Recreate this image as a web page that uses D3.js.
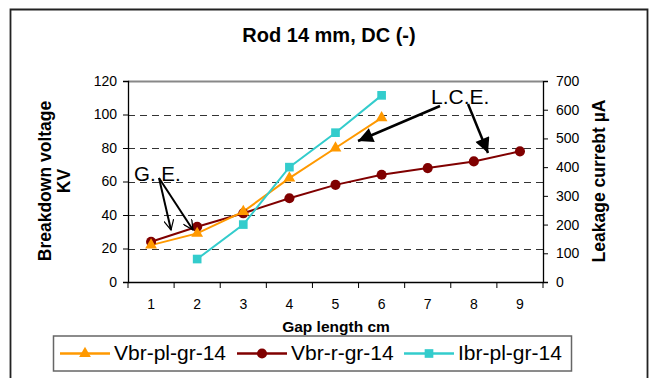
<!DOCTYPE html>
<html><head><meta charset="utf-8">
<script src="https://cdn.jsdelivr.net/npm/d3@7"></script>
<style>body{margin:0;background:#fff}svg{display:block;font-family:"Liberation Sans",Arial,sans-serif}</style>
</head><body>
<svg id="c" width="649" height="378"></svg>
<script>
const categories = [1,2,3,4,5,6,7,8,9];
const vbrPl = [22,29,42,62,80,98];          // Vbr-pl-gr-14 (KV), gaps 1..6
const vbrR  = [24,33,41,50,58,64,68,72,78]; // Vbr-r-gr-14 (KV), gaps 1..9
const ibrPlGaps = [2,3,4,5,6];
const ibrPl = [80,200,400,520,650];         // Ibr-pl-gr-14 (µA)
const leftTicks = [0,20,40,60,80,100,120];
const rightTicks = [0,100,200,300,400,500,600,700];

const svg = d3.select("#c");
const L=128, R=543, T=81, B=282;

// frame
svg.append("path").attr("d","M10.5,400 V9.5 H647.5 V400").attr("fill","none").attr("stroke","#222").attr("stroke-width",1.8);

const x = d3.scaleBand().domain(categories).range([L,R]);
const y = d3.scaleLinear().domain([0,120]).range([B,T]);
const y2 = d3.scaleLinear().domain([0,700]).range([B,T]);
const cx = d => x(d)+x.bandwidth()/2;

// title
svg.append("text").attr("x",329).attr("y",41.5).attr("text-anchor","middle")
  .attr("font-size",20).attr("font-weight","bold").text("Rod 14 mm, DC (-)");

// gridlines
svg.append("g").selectAll("line").data(leftTicks.filter(d=>d>0&&d<120)).join("line")
  .attr("x1",L).attr("x2",R).attr("y1",d=>Math.round(y(d))+0.5).attr("y2",d=>Math.round(y(d))+0.5)
  .attr("stroke","#333").attr("stroke-dasharray","7,5");
// top border
svg.append("line").attr("x1",L).attr("x2",R).attr("y1",T+0.5).attr("y2",T+0.5).attr("stroke","#888").attr("stroke-width",2);

// axes
const gl = svg.append("g").attr("transform",`translate(${L},0)`)
  .call(d3.axisLeft(y).tickValues(leftTicks).tickSizeOuter(0).tickSize(5).tickPadding(6));
const gr = svg.append("g").attr("transform",`translate(${R},0)`)
  .call(d3.axisRight(y2).tickValues(rightTicks).tickSizeOuter(0).tickSize(5).tickPadding(8));
const gb = svg.append("g").attr("transform",`translate(0,${B})`)
  .call(d3.axisBottom(x).tickSize(0).tickSizeOuter(0).tickPadding(17));
gb.selectAll(".tick").append("line").attr("x1",x.bandwidth()/2).attr("x2",x.bandwidth()/2).attr("y2",6).attr("stroke","#000");
gb.append("line").attr("x1",L).attr("x2",L).attr("y2",6).attr("stroke","#000");
[gl,gr,gb].forEach(g=>{g.selectAll("text").attr("font-size",14).attr("fill","#000").attr("font-family","Liberation Sans, Arial, sans-serif");
  g.select(".domain").attr("stroke","#000").attr("stroke-width",1.3);});

// axis titles
svg.append("text").attr("transform","translate(51,181) rotate(-90)").attr("text-anchor","middle")
  .attr("font-size",17.5).attr("font-weight","bold").text("Breakdown voltage");
svg.append("text").attr("transform","translate(70,181) rotate(-90)").attr("text-anchor","middle")
  .attr("font-size",17.5).attr("font-weight","bold").text("KV");
svg.append("text").attr("transform","translate(605,181) rotate(-90)").attr("text-anchor","middle")
  .attr("font-size",17.5).attr("font-weight","bold").text("Leakage currebt µA");
svg.append("text").attr("x",336).attr("y",332).attr("text-anchor","middle")
  .attr("font-size",15.5).attr("font-weight","bold").text("Gap length cm");

// series
const colors = {pl:"#FF9900", r:"#800000", i:"#33CCCC"};
const line = d3.line();
const plPts = vbrPl.map((v,i)=>[cx(categories[i]), y(v)]);
const rPts = vbrR.map((v,i)=>[cx(categories[i]), y(v)]);
const iPts = ibrPl.map((v,i)=>[cx(ibrPlGaps[i]), y2(v)]);
svg.append("path").attr("d",line(rPts)).attr("fill","none").attr("stroke",colors.r).attr("stroke-width",2);
svg.append("path").attr("d",line(plPts)).attr("fill","none").attr("stroke",colors.pl).attr("stroke-width",2);
svg.append("path").attr("d",line(iPts)).attr("fill","none").attr("stroke",colors.i).attr("stroke-width",2);
const tri = d3.symbol().type(d3.symbolTriangle).size(60);
const cir = d3.symbol().type(d3.symbolCircle).size(80);
const sq = d3.symbol().type(d3.symbolSquare).size(75);
svg.append("g").selectAll("path").data(rPts).join("path").attr("d",cir()).attr("transform",d=>`translate(${d})`).attr("fill",colors.r);
svg.append("g").selectAll("path").data(plPts).join("path").attr("d",tri()).attr("transform",d=>`translate(${d})`).attr("fill",colors.pl);
svg.append("g").selectAll("path").data(iPts).join("path").attr("d",sq()).attr("transform",d=>`translate(${d})`).attr("fill",colors.i);

// annotations
const defs = svg.append("defs");
defs.append("marker").attr("id","ah").attr("viewBox","0 0 10 10").attr("refX",10).attr("refY",5)
  .attr("markerWidth",7).attr("markerHeight",6).attr("markerUnits","strokeWidth").attr("orient","auto")
  .append("path").attr("d","M0,0 L10,5 L0,10 z").attr("fill","#000");
defs.append("marker").attr("id","ao").attr("viewBox","0 0 10 10").attr("refX",10).attr("refY",5)
  .attr("markerWidth",9).attr("markerHeight",5).attr("markerUnits","strokeWidth").attr("orient","auto")
  .append("path").attr("d","M0,0 L10,5 L0,10").attr("fill","none").attr("stroke","#000").attr("stroke-width",1.2);
svg.append("text").attr("x",134).attr("y",181).attr("font-size",20.5).text("G. E.");
svg.append("text").attr("x",431).attr("y",104).attr("font-size",21).text("L.C.E.");
const arrows = [
  {p:[[159,178],[171,230]], m:"ao", w:2},
  {p:[[159,178],[193,230]], m:"ao", w:2},
  {p:[[440,106],[358,141]], m:"ah", w:2.5},
  {p:[[468,104],[488,153]], m:"ah", w:2.5}
];
svg.append("g").selectAll("line").data(arrows).join("line")
  .attr("x1",d=>d.p[0][0]).attr("y1",d=>d.p[0][1]).attr("x2",d=>d.p[1][0]).attr("y2",d=>d.p[1][1])
  .attr("stroke","#000").attr("stroke-width",d=>d.w).attr("marker-end",d=>`url(#${d.m})`);

// legend
const lg = svg.append("g");
lg.append("rect").attr("x",53.5).attr("y",336).attr("width",518).attr("height",35).attr("fill","#fff").attr("stroke","#666").attr("stroke-width",1.5);
const items = [{n:"Vbr-pl-gr-14",c:colors.pl,s:tri,x:60},{n:"Vbr-r-gr-14",c:colors.r,s:cir,x:237},{n:"Ibr-pl-gr-14",c:colors.i,s:sq,x:404}];
items.forEach(it=>{
  lg.append("line").attr("x1",it.x).attr("x2",it.x+50).attr("y1",353.5).attr("y2",353.5).attr("stroke",it.c).attr("stroke-width",2.5);
  lg.append("path").attr("d",it.s()).attr("transform",`translate(${it.x+25},353.5)`).attr("fill",it.c);
  lg.append("text").attr("x",it.x+54).attr("y",359.5).attr("font-size",21).text(it.n);
});
</script>
</body></html>
